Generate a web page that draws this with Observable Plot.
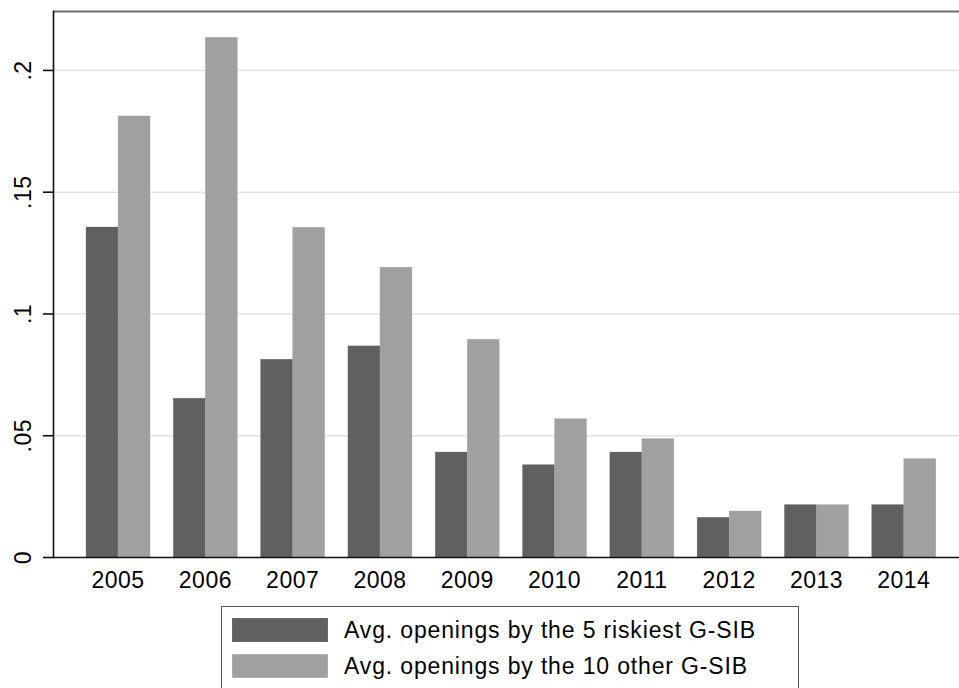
<!DOCTYPE html>
<html>
<head>
<meta charset="utf-8">
<script src="https://cdn.jsdelivr.net/npm/d3@7"></script>
<script src="https://cdn.jsdelivr.net/npm/@observablehq/plot@0.6"></script>
<style>
  html, body { margin: 0; padding: 0; background: #fff; }
  #chart { position: relative; width: 959px; height: 600px; }
  #chart svg { display: block; position: absolute; left: 0; top: 0; background: transparent; }
  .legend {
    margin-left: 221px; margin-top: 6px; width: 578px; height: 92px;
    box-sizing: border-box; border: 1.5px solid #555; padding-top: 11px; padding-left: 10px;
    font-family: "Liberation Sans", Arial, Helvetica, sans-serif; font-size: 23px; letter-spacing: 0.85px; color: #000;
  }
  .legend .row { display: flex; align-items: center; height: 24px; margin-bottom: 12px; }
  .legend .sw { width: 96px; height: 24px; margin-right: 16px; flex: none; box-sizing: border-box; }
</style>
</head>
<body>
<div id="chart"></div>
<script>
// ---- data ----
const years = ["2005","2006","2007","2008","2009","2010","2011","2012","2013","2014"];
const riskiest = [0.1355, 0.0652, 0.0812, 0.0867, 0.0431, 0.0379, 0.0431, 0.0163, 0.0215, 0.0215];
const others   = [0.1811, 0.2134, 0.1354, 0.1190, 0.0894, 0.0568, 0.0486, 0.0189, 0.0215, 0.0404];
const seriesNames = ["Avg. openings by the 5 riskiest G-SIB", "Avg. openings by the 10 other G-SIB"];
const seriesColors = ["#606060", "#a0a0a0"];
const yTicks = [0, 0.05, 0.1, 0.15, 0.2];
const yMax = 0.2242;

const rows = [];
years.forEach((yr, i) => {
  rows.push({year: yr, series: seriesNames[0], value: riskiest[i]});
  rows.push({year: yr, series: seriesNames[1], value: others[i]});
});
const fmt = d => d === 0 ? "0" : String(d).replace(/^0/, "");

const layout = {
  width: 959, height: 600,
  marginLeft: 53, marginRight: 0, marginTop: 11, marginBottom: 43,
  style: {fontFamily: '"Liberation Sans", Arial, Helvetica, sans-serif', fontSize: "23px", color: "#000", letterSpacing: "0.5px", background: "transparent"}
};
const band = {domain: years, paddingInner: 0.255, paddingOuter: 0.3165, align: 0.58, round: false};

// background layer: grid, frame lines, axes (non-faceted, band scale over years)
const back = Plot.plot({
  ...layout,
  x: {type: "band", ...band, label: null, axis: null},
  y: {domain: [0, yMax], label: null, axis: null},
  marks: [
    Plot.gridY(yTicks.filter(d => d > 0), {stroke: "#e2e2e2", strokeOpacity: 1, strokeWidth: 1.6}),
    Plot.ruleY([yMax], {stroke: "#6e6e6e", strokeWidth: 2}),
    Plot.axisY(yTicks, {anchor: "left", tickSize: 10, tickPadding: 13, tickRotate: -90, tickFormat: fmt, fontSize: 23, stroke: "#111", strokeWidth: 1.6, label: null}),
    Plot.axisX({anchor: "bottom", tickSize: 0, tickPadding: 14, fontSize: 23, label: null})
  ]
});

// foreground layer: grouped bars (faceted by year, same band layout)
const front = Plot.plot({
  ...layout,
  fx: {...band, label: null, axis: null},
  x: {domain: seriesNames, padding: 0, axis: null},
  y: {domain: [0, yMax], label: null, axis: null},
  color: {domain: seriesNames, range: seriesColors},
  marks: [
    Plot.barY(rows, {fx: "year", x: "series", y: "value", fill: "series", stroke: "series", strokeWidth: 0.6, strokeOpacity: 0.5})
  ]
});

// axis lines drawn on top of the bars
const lines = Plot.plot({
  ...layout,
  x: {type: "band", ...band, axis: null},
  y: {domain: [0, yMax], axis: null},
  marks: [
    Plot.ruleY([0], {stroke: "#111", strokeWidth: 1.6}),
    Plot.frame({anchor: "left", stroke: "#111", strokeWidth: 1.6})
  ]
});

const host = document.getElementById("chart");
host.appendChild(back);
host.appendChild(front);
host.appendChild(lines);

// legend below the SVG
const legend = document.createElement("div");
legend.className = "legend";
seriesNames.forEach((name, i) => {
  const row = document.createElement("div");
  row.className = "row";
  const sw = document.createElement("div");
  sw.className = "sw";
  sw.style.background = seriesColors[i];
  sw.style.border = "1px solid " + (i === 0 ? "#6a6a6a" : "#b0b0b0");
  const label = document.createElement("span");
  label.textContent = name;
  row.appendChild(sw);
  row.appendChild(label);
  legend.appendChild(row);
});
document.body.appendChild(legend);
</script>
</body>
</html>
